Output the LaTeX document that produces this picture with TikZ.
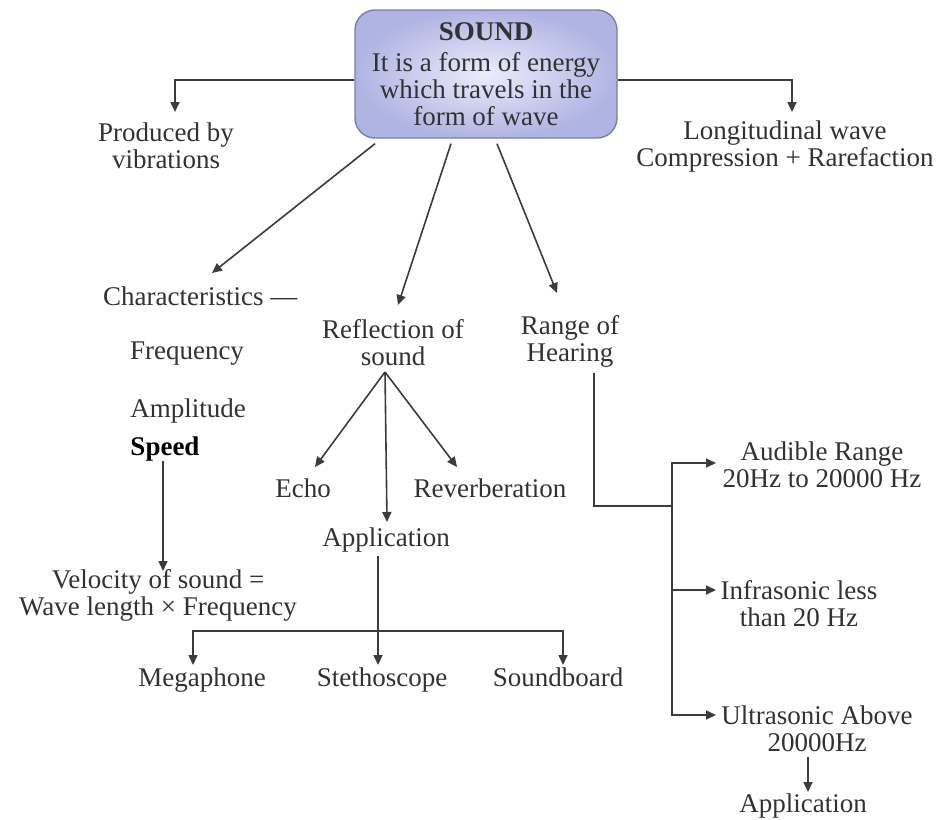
\documentclass[tikz,border=0pt]{standalone}
\usepackage{fontspec}
\setmainfont{Liberation Serif}
\usetikzlibrary{arrows.meta}
\definecolor{tcol}{RGB}{50,50,50}
\definecolor{lcol}{RGB}{60,60,60}
\definecolor{boxin}{RGB}{236,236,252}
\definecolor{boxout}{RGB}{176,180,226}
\definecolor{boxline}{RGB}{120,126,176}
\newcommand\fs{\fontsize{27}{27}\selectfont}
\begin{document}
\begin{tikzpicture}[x=1pt,y=-1pt,
  txt/.style={font=\fs, text=tcol, align=center, inner sep=0pt},
  topbox/.style={txt, draw=boxline, line width=1.4pt, rounded corners=20pt,
    inner color=boxin, outer color=boxout, minimum width=262pt, minimum height=128pt},
  arr/.style={draw=lcol, line width=1.6pt, -{Triangle[length=10pt,width=9pt]}},
  ln/.style={draw=lcol, line width=1.6pt}]
\fill[white] (0,0) rectangle (941,819);
\useasboundingbox (0,0) rectangle (941,819);

% nodes
\node[topbox] (sound) at (486,74) {\textbf{SOUND}\\[4pt]It is a form of energy\\which travels in the\\form of wave};
\node[txt] (prod) at (166,146) {Produced by\\vibrations};
\node[txt] (long) at (785,147) {Longitudinal wave\\Compression + Rarefaction};
\node[txt, anchor=west] (char) at (103,296) {Characteristics —};
\node[txt] (freq) at (187,354) {Frequency};
\node[txt] (amp) at (188,411) {Amplitude};
\node[txt, text=black] (speed) at (165,449) {\textbf{Speed}};
\node[txt] (vel) at (158,595) {Velocity of sound =\\Wave length × Frequency};
\node[txt] (refl) at (393,343) {Reflection of\\sound};
\node[txt] (range) at (570,341) {Range of\\Hearing};
\node[txt] (echo) at (303,488) {Echo};
\node[txt] (rev) at (490,488) {Reverberation};
\node[txt] (app1) at (386,540) {Application};
\node[txt, anchor=base] (mega) at (202,686) {Megaphone};
\node[txt, anchor=base] (steth) at (382,686) {Stethoscope};
\node[txt, anchor=base] (sboard) at (558,686) {Soundboard};
\node[txt] (aud) at (822,465) {Audible Range\\20Hz to 20000 Hz};
\node[txt] (infra) at (799,604) {Infrasonic less\\than 20 Hz};
\node[txt] (ultra) at (817,729) {Ultrasonic Above\\20000Hz};
\node[txt] (app2) at (803,806) {Application};

% coordinates
\coordinate (prodtip) at (175,112);
\coordinate (longtip) at (792,112);
\coordinate (chartip) at (212,273);
\coordinate (refltip) at (398,305);
\coordinate (rangetip) at (557,293);
\coordinate (veltip) at (163,571);
\coordinate (fork) at (385,372);
\coordinate (echotip) at (315,467);
\coordinate (revtip) at (457,467);
\coordinate (apptip) at (387,522);
\coordinate (appout) at (378,556);
\coordinate (bar) at (378,631);
\coordinate (megatip) at (193,665);
\coordinate (stethtip) at (378,665);
\coordinate (sboardtip) at (563,665);
\coordinate (rs) at (594,373);
\coordinate (rj) at (672,506);
\coordinate (audtip) at (716,463);
\coordinate (infratip) at (716,590);
\coordinate (ultratip) at (716,715);
\coordinate (ultout) at (808,757);
\coordinate (app2tip) at (808,792);

% connectors
\draw[arr] (sound.west |- 0,80) -| (prodtip);
\draw[arr] (sound.east |- 0,80) -| (longtip);
\draw[arr] ([xshift=-111pt,yshift=-5pt]sound.south) -- (chartip);
\draw[arr] ([xshift=-35pt,yshift=-5pt]sound.south) -- (refltip);
\draw[arr] ([xshift=11pt,yshift=-5pt]sound.south) -- (rangetip);
\draw[arr] ([xshift=-2pt]speed.south) -- (veltip);
\draw[arr] (fork) -- (echotip);
\draw[arr] (fork) -- (revtip);
\draw[arr] (fork) -- (apptip);
\draw[arr] (appout) -- (stethtip);
\draw[arr] (bar) -| (megatip);
\draw[arr] (bar) -| (sboardtip);
\draw[ln] (rs) |- (rj);
\draw[arr] (rj) |- (audtip);
\draw[arr] (rj) |- (infratip);
\draw[arr] (rj) |- (ultratip);
\draw[arr] (ultout) -- (app2tip);
\end{tikzpicture}
\end{document}
